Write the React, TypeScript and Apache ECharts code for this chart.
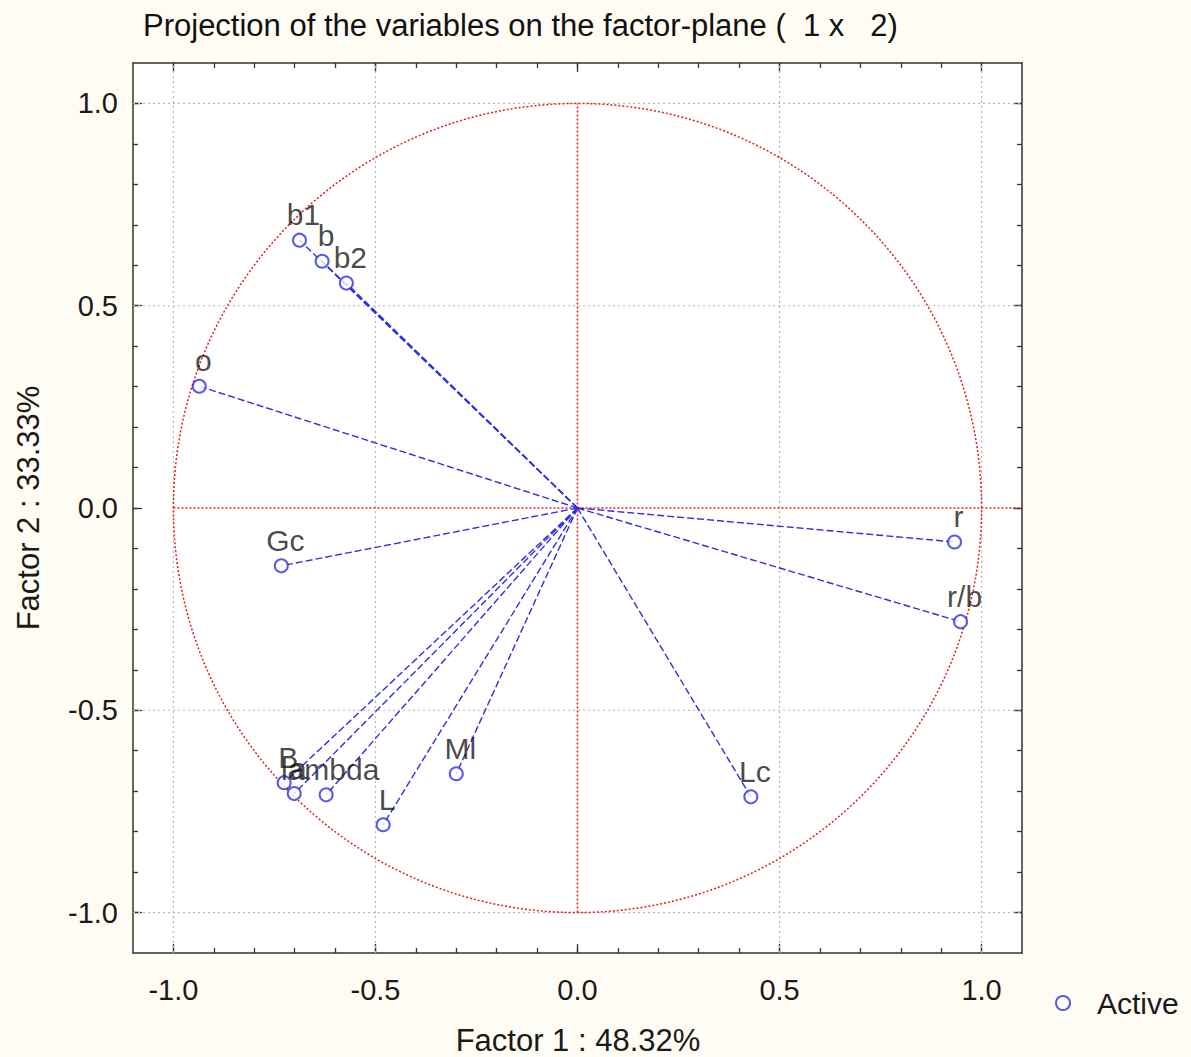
import React, { useEffect, useRef } from "react";
import * as echarts from "echarts";

const varNames = ["b1", "b", "b2", "o", "Gc", "r", "r/b", "B", "a", "lambda", "L", "Ml", "Lc"];
const factor1 = [-0.688, -0.632, -0.572, -0.936, -0.733, 0.933, 0.948, -0.726, -0.701, -0.622, -0.481, -0.3, 0.429];
const factor2 = [0.662, 0.61, 0.556, 0.301, -0.143, -0.084, -0.281, -0.679, -0.706, -0.709, -0.783, -0.657, -0.714];

const majorTicks = [-1, -0.5, 0, 0.5, 1];
const minorTicks = [-1, -0.9, -0.8, -0.7, -0.6, -0.5, -0.4, -0.3, -0.2, -0.1, 0, 0.1, 0.2, 0.3, 0.4, 0.5, 0.6, 0.7, 0.8, 0.9, 1];
const gridValues = [-1, -0.5, 0.5, 1];
const hAxisLine = [[-1, 0], [1.1, 0]];
const vAxisLine = [[0, -1], [0, 1]];
const axisMin = -1.1;
const axisMax = 1.1;

const titleText = "Projection of the variables on the factor-plane (  1 x   2)";
const xName = "Factor 1 : 48.32%";
const yName = "Factor 2 : 33.33%";
const legendName = "Active";

const RED = "#e41d1d";
const BLUE = "#2f2fe0";
const FRAME = "#333333";
const FONT = "Liberation Sans, Arial";

export default function App() {
  const ref = useRef<HTMLDivElement>(null);
  useEffect(() => {
    if (!ref.current) return;
    const chart = echarts.init(ref.current, null, { renderer: "svg" });
    const pts = factor1.map((x, i) => [x, factor2[i], varNames[i]]);

    const mkX = (position: string, major: boolean, labels: boolean) => ({
      type: "value",
      min: axisMin,
      max: axisMax,
      position,
      axisLine: { show: major, onZero: false, lineStyle: { color: FRAME, width: 1.5 } },
      axisTick: {
        show: true,
        inside: true,
        length: major ? 9 : 5,
        customValues: major ? majorTicks : minorTicks,
        lineStyle: { color: FRAME, width: 1.3 },
      },
      axisLabel: labels
        ? {
            show: true,
            customValues: majorTicks,
            formatter: (v: number) => v.toFixed(1),
            fontFamily: FONT,
            fontSize: 29,
            color: "#1a1a1a",
            margin: position === "bottom" ? 22 : 15,
          }
        : { show: false },
      splitLine: { show: false },
    });

    chart.setOption({
      animation: false,
      backgroundColor: "#fffcf4",
      title: {
        text: titleText,
        left: 138,
        top: 5,
        textStyle: { fontFamily: FONT, fontSize: 31, fontWeight: "normal", color: "#111" },
      },
      grid: { left: 133, top: 63, right: 169, bottom: 104, show: true, backgroundColor: "#ffffff", borderWidth: 0 },
      xAxis: [mkX("bottom", true, true), mkX("bottom", false, false), mkX("top", true, false), mkX("top", false, false)],
      yAxis: [mkX("left", true, true), mkX("left", false, false), mkX("right", true, false), mkX("right", false, false)],
      legend: {
        data: [{ name: legendName, icon: "emptyCircle" }],
        left: 1050,
        top: 983,
        itemWidth: 14,
        itemHeight: 14,
        textStyle: { fontFamily: FONT, fontSize: 30, color: "#1a1a1a", padding: [0, 0, 0, 22] },
      },
      graphic: [
        {
          type: "text",
          x: 578,
          y: 1040,
          style: { text: xName, fontFamily: FONT, fontSize: 31, fill: "#1a1a1a", align: "center", verticalAlign: "middle" },
        },
        {
          type: "text",
          x: 28,
          y: 508,
          rotation: Math.PI / 2,
          style: { text: yName, fontFamily: FONT, fontSize: 31, fill: "#1a1a1a", align: "center", verticalAlign: "middle" },
        },
      ],
      series: [
        {
          type: "custom",
          name: "gridlines",
          silent: true,
          data: gridValues.map((v) => [v]),
          renderItem: (params: any, api: any) => {
            const v = api.value(0);
            const a = api.coord([v, axisMin]);
            const b = api.coord([v, axisMax]);
            const c = api.coord([axisMin, v]);
            const d = api.coord([axisMax, v]);
            const st = { stroke: "#b8b8b8", lineWidth: 1.2, lineDash: [2, 3], fill: "none" };
            return {
              type: "group",
              children: [
                { type: "line", shape: { x1: a[0], y1: a[1], x2: b[0], y2: b[1] }, style: st },
                { type: "line", shape: { x1: c[0], y1: c[1], x2: d[0], y2: d[1] }, style: st },
              ],
            };
          },
          z: 1,
        },
        {
          type: "custom",
          name: "circle",
          silent: true,
          data: [[0, 0]],
          renderItem: (params: any, api: any) => {
            const c = api.coord([0, 0]);
            const e = api.coord([1, 1]);
            return {
              type: "ellipse",
              shape: { cx: c[0], cy: c[1], rx: e[0] - c[0], ry: c[1] - e[1] },
              style: { stroke: RED, lineWidth: 1.5, lineDash: [2, 2], fill: "none" },
            };
          },
          z: 2,
        },
        {
          type: "line",
          name: "hline",
          silent: true,
          data: hAxisLine,
          symbol: "none",
          lineStyle: { color: RED, width: 1.5, type: [2, 2] },
          z: 2,
        },
        {
          type: "line",
          name: "vline",
          silent: true,
          data: vAxisLine,
          symbol: "none",
          lineStyle: { color: RED, width: 1.5, type: [2, 2] },
          z: 2,
        },
        {
          type: "custom",
          name: "vectors",
          silent: true,
          data: pts,
          renderItem: (params: any, api: any) => {
            const o = api.coord([0, 0]);
            const p = api.coord([api.value(0), api.value(1)]);
            return {
              type: "line",
              shape: { x1: o[0], y1: o[1], x2: p[0], y2: p[1] },
              style: { stroke: BLUE, lineWidth: 1.4, lineDash: [7, 3], fill: "none" },
            };
          },
          z: 3,
        },
        {
          type: "scatter",
          name: legendName,
          data: pts,
          symbol: "emptyCircle",
          symbolSize: 13,
          itemStyle: { color: BLUE, borderWidth: 1.6 },
          label: {
            show: true,
            position: "top",
            distance: 3,
            offset: [4, 0],
            formatter: (p: any) => p.value[2],
            fontFamily: FONT,
            fontSize: 30,
            color: "#1a1a1a",
          },
          z: 4,
        },
      ],
    });
    return () => chart.dispose();
  }, []);
  return <div ref={ref} style={{ position: "fixed", left: 0, top: 0, width: 1191, height: 1057 }} />;
}
